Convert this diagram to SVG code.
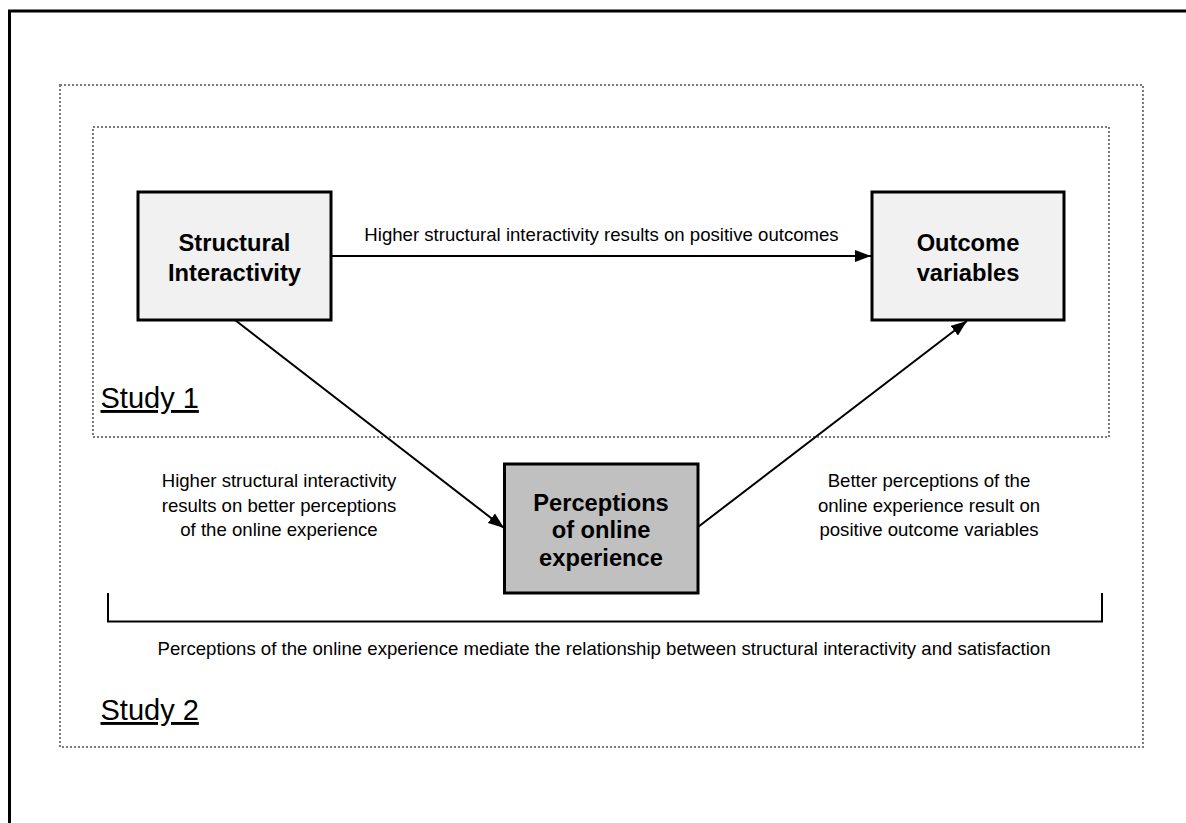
<svg xmlns="http://www.w3.org/2000/svg" width="1186" height="823" viewBox="0 0 1186 823">
  <style>
    .frame { fill: none; stroke: #000; stroke-width: 3; }
    .study { fill: none; stroke: #7a7a7a; stroke-width: 2; stroke-dasharray: 2 2; }
    .box { stroke: #000; stroke-width: 3; }
    .light { fill: #f1f1f1; }
    .dark { fill: #c0c0c0; }
    .node-text { font-family: "Liberation Sans", Arial, sans-serif; font-weight: bold; font-size: 23.7px; fill: #000; text-anchor: middle; }
    .label { font-family: "Liberation Sans", Arial, sans-serif; font-size: 18.6px; fill: #000; text-anchor: middle; }
    .study-title { font-family: "Liberation Sans", Arial, sans-serif; font-size: 29px; fill: #000; text-decoration: underline; }
    .edge { fill: none; stroke: #000; stroke-width: 2; }
  </style>
  <defs>
    <marker id="arrow" viewBox="0 0 16 12" refX="16" refY="6" markerWidth="16" markerHeight="12" markerUnits="userSpaceOnUse" orient="auto">
      <path d="M0,0 L16,6 L0,12 Z" fill="#000"/>
    </marker>
  </defs>

  <rect width="1186" height="823" fill="#fff"/>

  <!-- page frame (open on the right and bottom) -->
  <path class="frame" d="M9.5,823 V11 H1186"/>

  <!-- study regions -->
  <g id="study2">
    <rect class="study" x="60" y="85" width="1083" height="662"/>
    <text class="study-title" x="100.5" y="720">Study 2</text>
  </g>
  <g id="study1">
    <rect class="study" x="93" y="127" width="1016" height="310"/>
    <text class="study-title" x="100.5" y="408">Study 1</text>
  </g>

  <!-- connectors -->
  <g id="connectors">
    <line class="edge" x1="331" y1="256" x2="871" y2="256" marker-end="url(#arrow)"/>
    <line class="edge" x1="235" y1="320" x2="504" y2="528" marker-end="url(#arrow)"/>
    <line class="edge" x1="698" y1="527" x2="967" y2="321" marker-end="url(#arrow)"/>
    <path class="edge" d="M108,593 V621.5 H1102 V593"/>
  </g>

  <!-- connector labels -->
  <g id="labels">
    <text class="label" x="601.5" y="241">Higher structural interactivity results on positive outcomes</text>
    <text class="label" x="279" y="487">Higher structural interactivity</text>
    <text class="label" x="279" y="511.5">results on better perceptions</text>
    <text class="label" x="279" y="536">of the online experience</text>
    <text class="label" x="929" y="487">Better perceptions of the</text>
    <text class="label" x="929" y="511.5">online experience result on</text>
    <text class="label" x="929" y="536">positive outcome variables</text>
    <text class="label" x="604" y="655">Perceptions of the online experience mediate the relationship between structural interactivity and satisfaction</text>
  </g>

  <!-- nodes -->
  <g id="node-structural">
    <rect class="box light" x="138" y="192" width="193" height="128"/>
    <text class="node-text" x="234.5" y="251">Structural</text>
    <text class="node-text" x="234.5" y="280.5">Interactivity</text>
  </g>
  <g id="node-outcome">
    <rect class="box light" x="872" y="192" width="192" height="128"/>
    <text class="node-text" x="968" y="251">Outcome</text>
    <text class="node-text" x="968" y="280.5">variables</text>
  </g>
  <g id="node-perceptions">
    <rect class="box dark" x="504.5" y="464" width="193.5" height="129"/>
    <text class="node-text" x="601" y="510.5">Perceptions</text>
    <text class="node-text" x="601" y="538">of online</text>
    <text class="node-text" x="601" y="565.5">experience</text>
  </g>
</svg>
